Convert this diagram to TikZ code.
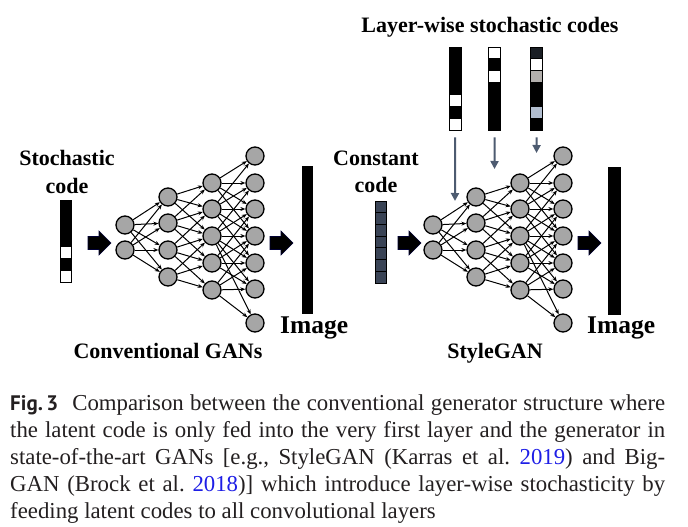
\documentclass[tikz,border=0pt]{standalone}
\usepackage{fontspec}
\setmainfont{Liberation Serif}
\newfontfamily\figfont{PT Sans}
\usetikzlibrary{arrows.meta}
\definecolor{nodegray}{RGB}{166,166,166}
\definecolor{navy}{RGB}{58,68,86}
\definecolor{codearrowc}{RGB}{77,91,112}
\definecolor{cellgray}{RGB}{178,175,172}
\definecolor{cellblue}{RGB}{178,190,208}
\definecolor{celldark}{RGB}{26,30,36}
\definecolor{captext}{RGB}{35,31,32}
\definecolor{citeblue}{RGB}{30,30,230}
\frenchspacing
\begin{document}
\begin{tikzpicture}[x=1pt,y=-1pt,
  neuron/.style={circle,draw=black,fill=nodegray,line width=1.3pt,minimum size=18pt,inner sep=0pt},
  edge/.style={-{Stealth[length=5pt,width=4pt]},line width=1pt,black},
  lbl/.style={font=\bfseries\fontsize{22}{24}\selectfont,inner sep=0pt},
  imglbl/.style={font=\bfseries\fontsize{25.5}{28}\selectfont,inner sep=0pt},
  codearrow/.style={-{Triangle[length=8pt,width=8pt]},line width=2pt,codearrowc},
  bigarrow/.style={fill=black,draw=black!80!blue,line width=0.6pt},
  barbox/.style={inner sep=0pt,anchor=north west,minimum width=12pt}
]
\useasboundingbox (0,0) rectangle (688,527);

% ---------------- networks ----------------
\foreach \p/\ox in {a/0,b/308}{
  \foreach \yy [count=\i] in {225,250}
    \node[neuron] (\p1-\i) at (125+\ox,\yy) {};
  \foreach \yy [count=\i] in {197,223,250,277}
    \node[neuron] (\p2-\i) at (168+\ox,\yy) {};
  \foreach \yy [count=\i] in {183,209,236,263,290}
    \node[neuron] (\p3-\i) at (212+\ox,\yy) {};
  \foreach \yy [count=\i] in {156,183,209,236,263,289,323}
    \node[neuron] (\p4-\i) at (255+\ox,\yy) {};
  \foreach \s/\t in {1/1,1/2,1/3,1/4,2/1,2/2,2/3,2/4}
    \draw[edge] (\p1-\s) -- (\p2-\t);
  \foreach \s/\t in {1/1,1/2,1/3,2/1,2/2,2/3,2/4,3/2,3/3,3/4,3/5,4/3,4/4,4/5}
    \draw[edge] (\p2-\s) -- (\p3-\t);
  \foreach \s/\t in {1/1,1/2,1/3,1/4,2/1,2/2,2/3,2/4,2/5,3/2,3/3,3/4,3/5,3/6,3/7,4/3,4/4,4/5,4/6,5/4,5/5,5/6,5/7}
    \draw[edge] (\p3-\s) -- (\p4-\t);
}

% ---------------- thick arrows ----------------
\foreach \ax in {88,270,398,578}{
  \draw[bigarrow] (\ax,243-6.5) -- (\ax+11,243-6.5) -- (\ax+11,243-12) -- (\ax+23,243)
     -- (\ax+11,243+12) -- (\ax+11,243+6.5) -- (\ax,243+6.5) -- cycle;
}

% ---------------- image bars ----------------
\fill[black] (302,166) rectangle (313,314);
\fill[black] (608,167) rectangle (621,315);

% ---------------- left stochastic code ----------------
\node[barbox,minimum height=82pt,minimum width=11pt] (scodebar) at (60,200) {};
\foreach \c [count=\i from 0] in {black,black,black,black,white,black,white}
  \filldraw[fill=\c,draw=black,line width=0.9pt] (60,200+\i*11.714) rectangle ++(11,11.714);

% ---------------- constant code ----------------
\node[barbox,minimum height=82pt,minimum width=11pt] (ccodebar) at (375,201) {};
\foreach \i in {0,...,6}
  \filldraw[fill=navy,draw=black,line width=1pt] (375,201+\i*11.714) rectangle ++(11,11.714);

% ---------------- layer-wise codes ----------------
\node[barbox,minimum height=83pt] (lw1) at (449,47) {};
\node[barbox,minimum height=83pt] (lw2) at (488.5,47) {};
\node[barbox,minimum height=83pt] (lw3) at (530.5,47) {};
\foreach \c [count=\i from 0] in {black,black,black,black,white,black,white}
  \filldraw[fill=\c,draw=black,line width=0.9pt] (449,47+\i*11.857) rectangle ++(12,11.857);
\foreach \c [count=\i from 0] in {white,black,white,black,black,black,black}
  \filldraw[fill=\c,draw=black,line width=0.9pt] (488.5,47+\i*11.857) rectangle ++(12,11.857);
\foreach \c [count=\i from 0] in {celldark,white,cellgray,black,black,cellblue,black}
  \filldraw[fill=\c,draw=black,line width=0.9pt] (530.5,47+\i*11.857) rectangle ++(12,11.857);

\coordinate (t1) at (455,201);
\coordinate (t2) at (494.5,169);
\coordinate (t3) at (536.5,153);
\draw[codearrow] ([yshift=-7pt]lw1.south) -- (t1);
\draw[codearrow] ([yshift=-7pt]lw2.south) -- (t2);
\draw[codearrow] ([yshift=-7pt]lw3.south) -- (t3);

% ---------------- labels ----------------
\node[lbl,anchor=base] (stoch) at (67,165) {Stochastic};
\node[lbl,anchor=base] (scode) at (67,193) {code};
\node[lbl,anchor=base] (const) at (376,165) {Constant};
\node[lbl,anchor=base] (ccode) at (376,192) {code};
\node[lbl,anchor=base] (lw) at (490,33) {Layer-wise stochastic codes};
\node[lbl,anchor=base] (conv) at (168,358) {Conventional GANs};
\node[lbl,anchor=base] (sg) at (495,358) {StyleGAN};
\node[imglbl,anchor=base west] (img1) at (280,333) {Image};
\node[imglbl,anchor=base west] (img2) at (587,333) {Image};

% ---------------- caption ----------------
\node[anchor=base west,inner sep=0pt,text width=655pt,align=justify,text=captext,
      font=\fontsize{22.8}{27.1}\selectfont] (cap) at (10,410)
 {{\figfont\bfseries\fontsize{21}{27.1}\selectfont Fig.\,3}\hspace{14pt}Comparison between the conventional generator structure where\linebreak
  the latent code is only fed into the very first layer and the generator in\linebreak
  state-of-the-art GANs [e.g., StyleGAN (Karras et al.~\textcolor{citeblue}{2019}) and Big-\linebreak
  GAN (Brock et al.~\textcolor{citeblue}{2018})] which introduce layer-wise stochasticity by\linebreak
  feeding latent codes to all convolutional layers};
\end{tikzpicture}
\end{document}
